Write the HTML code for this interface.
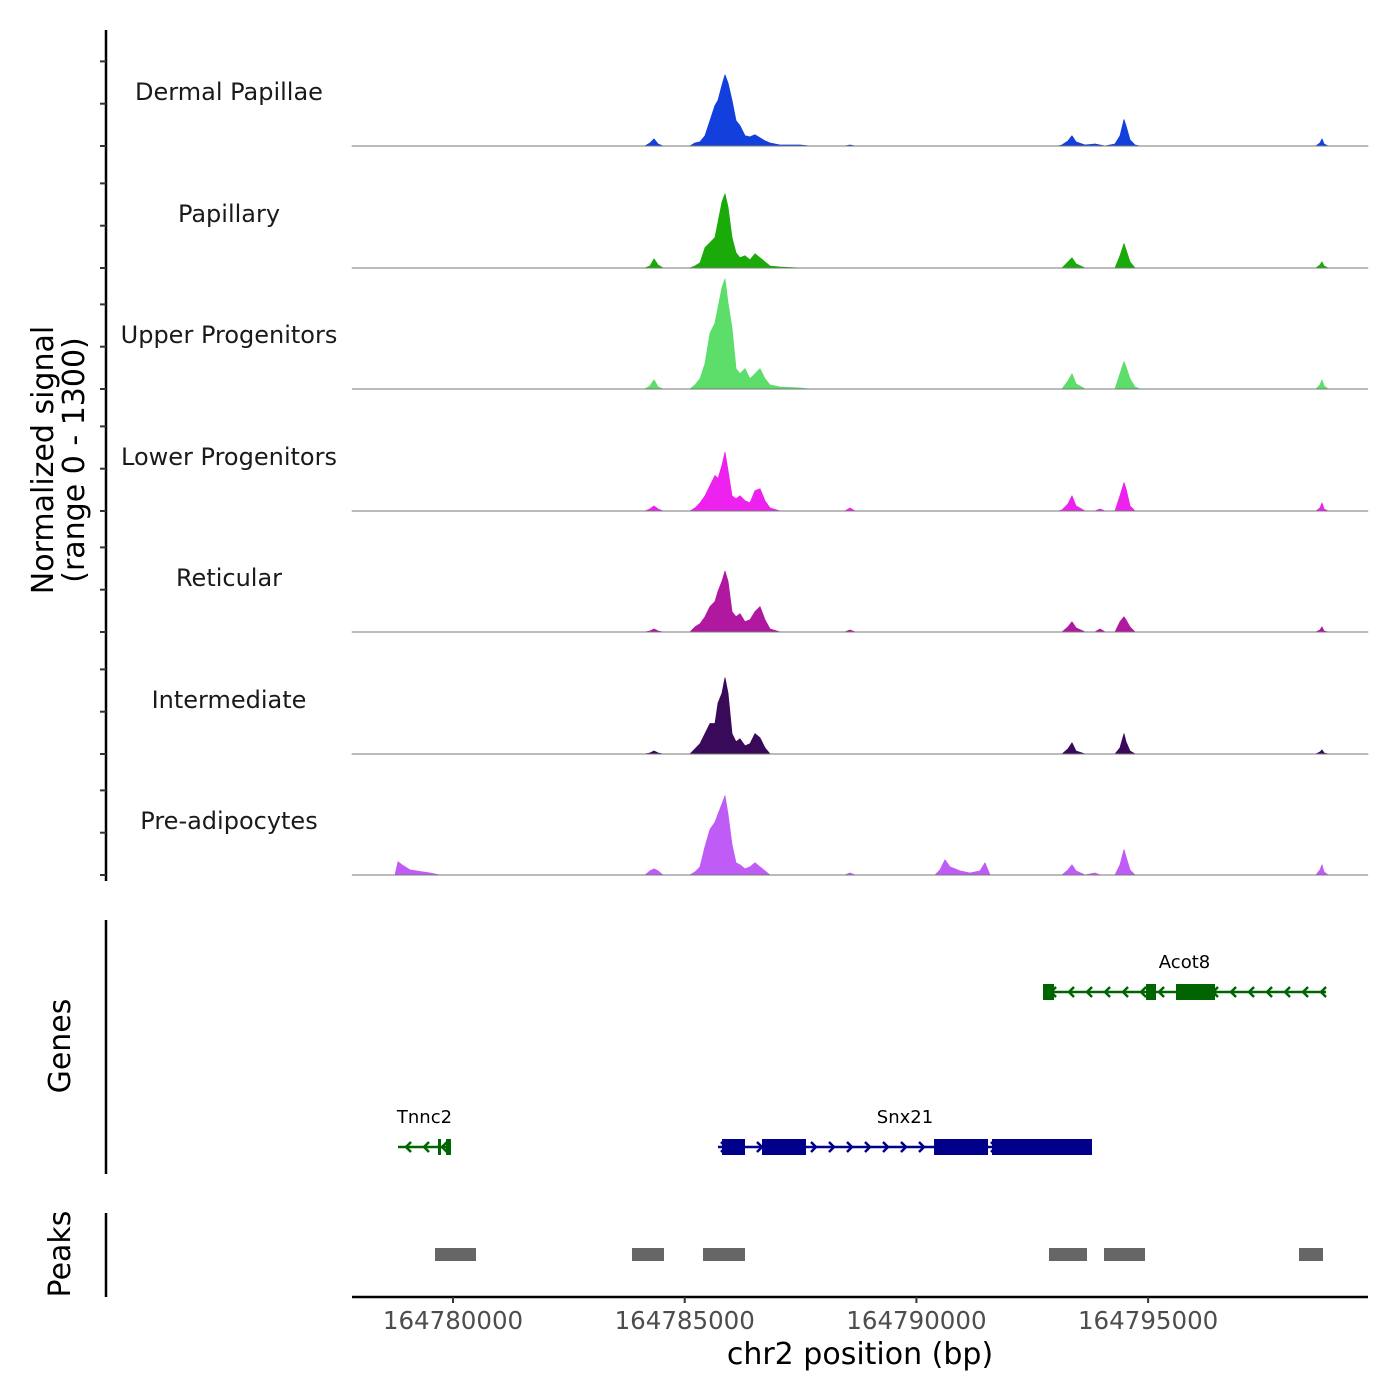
<!DOCTYPE html>
<html><head><meta charset="utf-8"><style>
html,body{margin:0;padding:0;background:#fff;}
svg{display:block;font-family:"DejaVu Sans","Liberation Sans",sans-serif;}
</style></head><body>
<svg id="chart" width="1400" height="1400" viewBox="0 0 1400 1400" xmlns="http://www.w3.org/2000/svg"></svg>
<script>
const positions=[164777820,164778748,164778813,164778899,164779072,164779503,164779719,164784143,164784251,164784337,164784423,164784531,164785114,164785222,164785330,164785438,164785546,164785654,164785718,164785805,164785869,164785934,164786020,164786107,164786193,164786301,164786409,164786517,164786625,164786733,164786840,164787056,164787488,164787704,164788459,164788567,164788675,164790401,164790509,164790617,164790725,164790941,164791156,164791372,164791480,164791588,164793055,164793142,164793271,164793358,164793444,164793638,164793854,164793962,164794070,164794285,164794393,164794480,164794523,164794609,164794717,164794825,164798537,164798623,164798709,164798753,164798796,164798882,164799745];
const trackNames=["Dermal Papillae","Papillary","Upper Progenitors","Lower Progenitors","Reticular","Intermediate","Pre-adipocytes"];
const trackColors=["#1340dd","#1aaa0a","#5ddd6a","#ee22ee","#b0189f","#3a0a5a","#bf5cf5"];
const sigDermal=[0,0,0,0,0,0,0,0, 36,84,24,0, 0,36,48,120,300,480,540,720,840,744,540,300,240,120,108,132,96,60,36,12,12, 0,0,12,0, 0,0,0,0,0,0,0,0,0,0, 12,60,120,48,12,24,12, 0, 24,120,312,240,72,12,0, 0,0,36,84,24,0,0];
const sigPapillary=[0,0,0,0,0,0,0,0, 24,108,36,0, 0,24,60,240,300,360,540,780,876,720,360,180,120,144,96,168,120,72,24,12,0, 0,0,0,0, 0,0,0,0,0,0,0,0,0,0, 0,72,120,48,0,0,0, 0, 0,144,288,216,72,0,0, 0,0,36,72,24,0,0];
const sigUpper=[0,0,0,0,0,0,0,0, 36,108,24,0, 0,48,120,300,660,780,960,1200,1300,1020,720,240,180,240,120,180,240,120,48,24,12, 0,0,0,0, 0,0,0,0,0,0,0,0,0,0, 0,96,180,60,0,0,0, 0, 0,180,324,264,120,24,0, 0,0,48,108,36,0,0];
const sigLower=[0,0,0,0,0,0,0,0, 24,60,24,0, 0,36,96,180,300,420,384,540,696,480,180,144,180,120,96,240,264,120,36,0,0, 0,0,36,0, 0,0,0,0,0,0,0,0,0,0, 12,84,180,60,0,0,24, 0, 0,180,336,264,60,0,0, 0,0,36,96,24,0,0];
const sigReticular=[0,0,0,0,0,0,0,0, 12,36,12,0, 0,60,96,180,300,360,480,600,720,600,240,180,216,120,144,240,300,144,36,0,0, 0,0,24,0, 0,0,0,0,0,0,0,0,0,0, 0,60,120,48,0,0,36, 0, 0,120,180,144,60,0,0, 0,0,24,60,12,0,0];
const sigIntermediate=[0,0,0,0,0,0,0,0, 12,36,12,0, 0,60,120,240,360,360,600,720,900,720,240,144,180,96,120,240,192,72,0,0,0, 0,0,0,0, 0,0,0,0,0,0,0,0,0,0, 0,60,132,36,0,0,0, 0, 0,72,240,144,36,0,0, 0,0,24,48,12,0,0];
const sigPreadipo=[0,0,156,120,60,24,0,0, 48,72,48,0, 0,36,96,336,540,624,720,840,936,720,360,144,120,72,96,144,96,48,0,0,0, 0,0,24,0, 0,60,180,96,48,24,48,144,0,0, 0,60,120,48,0,24,0, 0, 0,120,300,216,60,0,0, 0,0,60,120,36,0,0];
const signals=[sigDermal,sigPapillary,sigUpper,sigLower,sigReticular,sigIntermediate,sigPreadipo];
const xTicks=[164780000,164785000,164790000,164795000];
const geneNames=["Acot8","Tnnc2","Snx21"];
const geneStarts=[164792732,164778813,164785718];
const geneEnds=[164798839,164779956,164793789];
const geneStrands=[-1,-1,1];
const geneRows=[0,1,1];
const exonGene=[0,0,0,1,1,2,2,2,2];
const exonStarts=[164792732,164794955,164795602,164779676,164779849,164785805,164786668,164790380,164791631];
const exonEnds=[164792969,164795170,164796444,164779741,164779956,164786301,164787617,164791545,164793789];
const peakStarts=[164779611,164783862,164785395,164792861,164794048,164798256];
const peakEnds=[164780496,164784553,164786301,164793681,164794933,164798774];

const svg=document.getElementById('chart');
const NS='http://www.w3.org/2000/svg';
const X0=352,X1=1368,D0=164777820,D1=164799745;
const x=v=>X0+(v-D0)/(D1-D0)*(X1-X0);
const baselines=[146,268,389,511,632,754,875];
const yScale=v=>v/1300*110;
function mk(tag,attrs,parent){const e=document.createElementNS(NS,tag);for(const k in attrs)e.setAttribute(k,attrs[k]);(parent||svg).appendChild(e);return e;}

let ax=mk('line',{x1:106,y1:30,x2:106,y2:881,stroke:'#000','stroke-width':2.5});


baselines.forEach(b=>{[0,500,1000].forEach(t=>{const yy=b-yScale(t);const tk=mk('line',{x1:100,y1:yy,x2:106,y2:yy,stroke:'#333','stroke-width':2});

});});

signals.forEach((s,i)=>{
  const b=baselines[i];
  const g=mk('g',{});
  
  
  let d='M'+x(positions[0])+','+b;
  positions.forEach((p,j)=>{d+=' L'+x(p).toFixed(1)+','+(b-yScale(s[j]||0)).toFixed(1);});
  d+=' L'+x(positions[positions.length-1])+','+b+' Z';
  const a=mk('path',{d:d,fill:trackColors[i],stroke:trackColors[i],'stroke-width':0.8,'stroke-linejoin':'round'},g);
  
  
  const bl=mk('line',{x1:X0,y1:b,x2:X1,y2:b,stroke:'#777','stroke-width':1},g);
  
  
  const t=mk('text',{x:229,y:b-46,'text-anchor':'middle','font-size':24,fill:'#1a1a1a'},g);
  t.textContent=trackNames[i];
  
  
});

let yt=mk('text',{transform:'translate(53,460) rotate(-90)','text-anchor':'middle','font-size':30,fill:'#000'});
yt.textContent='Normalized signal';


let yt2=mk('text',{transform:'translate(84,460) rotate(-90)','text-anchor':'middle','font-size':30,fill:'#000'});
yt2.textContent='(range 0 - 1300)';



let gl=mk('line',{x1:106,y1:920,x2:106,y2:1174,stroke:'#000','stroke-width':2.5});


let gtt=mk('text',{transform:'translate(70,1046) rotate(-90)','text-anchor':'middle','font-size':30,fill:'#000'});
gtt.textContent='Genes';


const rowY=[992,1147];
geneNames.forEach((n,i)=>{
  const col=geneStrands[i]<0?'#006400':'#00008b';
  const yy=rowY[geneRows[i]];
  const g=mk('g',{});
  
  
  const xa=x(geneStarts[i]),xb=x(geneEnds[i]);
  mk('line',{x1:xa,y1:yy,x2:xb,y2:yy,stroke:col,'stroke-width':2.5},g);
  const step=18;
  for(let cx=xa+8;cx<xb-2;cx+=step){
    const dx=geneStrands[i]<0?-5:5;
    mk('path',{d:`M${cx-dx},${yy-5} L${cx},${yy} L${cx-dx},${yy+5}`,fill:'none',stroke:col,'stroke-width':2.5},g);
  }
  exonGene.forEach((gi,k)=>{if(gi!==i)return;
    const r=mk('rect',{x:x(exonStarts[k]),y:yy-8,width:Math.max(2,x(exonEnds[k])-x(exonStarts[k])),height:16,fill:col},g);
    
    
  });
  const t=mk('text',{x:(xa+xb)/2,y:yy-24,'text-anchor':'middle','font-size':18,fill:'#000'},g);
  t.textContent=n;
  
  
});

let pl=mk('line',{x1:106,y1:1213,x2:106,y2:1297,stroke:'#000','stroke-width':2.5});


let ptt=mk('text',{transform:'translate(70,1254) rotate(-90)','text-anchor':'middle','font-size':30,fill:'#000'});
ptt.textContent='Peaks';


peakStarts.forEach((s,i)=>{
  const r=mk('rect',{x:x(s),y:1248,width:x(peakEnds[i])-x(s),height:13,fill:'#666'});
  
  
});

let xl=mk('line',{x1:X0,y1:1297,x2:X1,y2:1297,stroke:'#000','stroke-width':2.5});


xTicks.forEach(t=>{
  const tk=mk('line',{x1:x(t),y1:1297,x2:x(t),y2:1303,stroke:'#333','stroke-width':2});
  
  
  const tl=mk('text',{x:x(t),y:1329,'text-anchor':'middle','font-size':24.5,fill:'#4d4d4d'});
  tl.textContent=String(t);
  
  
});
let xt=mk('text',{x:860,y:1364,'text-anchor':'middle','font-size':30,fill:'#000'});
xt.textContent='chr2 position (bp)';


</script>
</body></html>
